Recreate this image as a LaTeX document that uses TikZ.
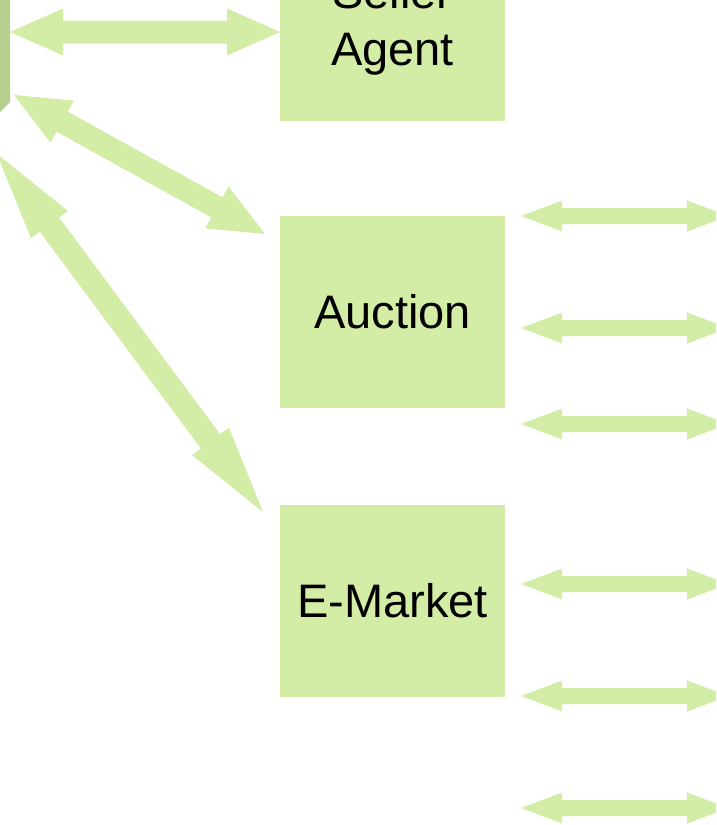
\documentclass[tikz,border=0pt]{standalone}
\usepackage{fontspec}
\setmainfont{Liberation Sans}
\usetikzlibrary{calc}

\definecolor{leaf}{HTML}{D3ECA6}
\definecolor{leafdark}{HTML}{B6CF8D}

\tikzset{
  unitbox/.style={fill=leaf, draw=none, minimum width=225pt, minimum height=192pt,
    inner sep=0pt, align=center, font=\fontsize{47pt}{57pt}\selectfont},
  arrowfill/.style={fill=leaf, draw=none}
}

% Double-headed block arrow from #1 to #2:
% #3 shaft half width, #4 head half width, #5 head length
\newcommand\blockarrow[5]{%
  \coordinate (ha) at ($(#1)!#5!(#2)$);
  \coordinate (hb) at ($(#2)!#5!(#1)$);
  \fill[arrowfill] (#1)
    -- ($(ha)!#4!90:(#2)$) -- ($(ha)!#3!90:(#2)$)
    -- ($(hb)!#3!-90:(#1)$) -- ($(hb)!#4!-90:(#1)$)
    -- (#2)
    -- ($(hb)!#4!90:(#1)$) -- ($(hb)!#3!90:(#1)$)
    -- ($(ha)!#3!-90:(#2)$) -- ($(ha)!#4!-90:(#2)$)
    -- cycle;
}

\begin{document}
\begin{tikzpicture}[x=1pt, y=-1pt]
  \useasboundingbox (0,0) rectangle (716,825);
  \clip (0,0) rectangle (716,825);

  % edge of the left panel
  \fill[leafdark] (-30,-30) -- (10,-30) -- (10,102) -- (0,112) -- (-30,112) -- cycle;

  % units
  \node[unitbox] (seller)  at (392.5,25)  {Seller\\Agent};
  \node[unitbox] (auction) at (392.5,312) {Auction};
  \node[unitbox] (emarket) at (392.5,600.5) {E-Market};

  % connector ends
  \coordinate (p1) at (10,32);
  \coordinate (q1) at (280,32);
  \coordinate (p2) at (14,95);
  \coordinate (q2) at (265,234);
  \coordinate (p3) at (-3,154);
  \coordinate (q3) at (263,512);

  \blockarrow{p1}{q1}{11.5pt}{23.5pt}{53pt}
  \blockarrow{p2}{q2}{11.5pt}{24pt}{55pt}
  \blockarrow{p3}{q3}{12pt}{23pt}{88pt}

  % outgoing links on the right
  \foreach \yy [count=\i] in {216,328,424,584,696,808} {
    \coordinate (r\i) at (521,\yy);
    \coordinate (s\i) at (728,\yy);
    \blockarrow{r\i}{s\i}{8pt}{15.5pt}{41pt}
  }
\end{tikzpicture}
\end{document}
